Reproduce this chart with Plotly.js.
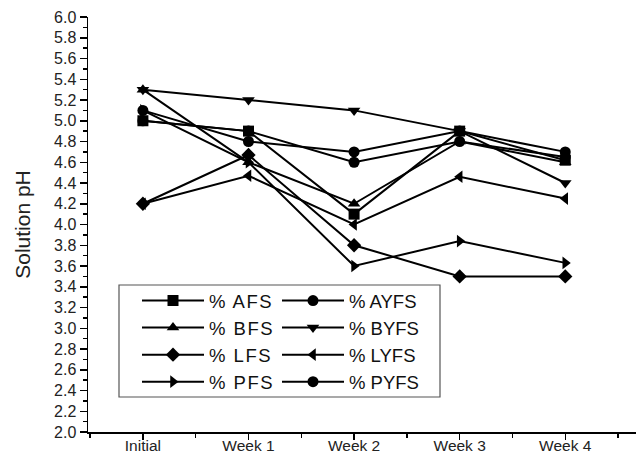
<!DOCTYPE html>
<html>
<head>
<meta charset="utf-8">
<script src="https://cdn.plot.ly/plotly-3.0.1.min.js"></script>
<style>
html,body{margin:0;padding:0;background:#fff;}
#chart{width:636px;height:456px;}
.legendtext{letter-spacing:1.5px;}
</style>
</head>
<body>
<div id="chart"></div>
<script>
const categories = ["Initial", "Week 1", "Week 2", "Week 3", "Week 4"];
const AFS  = [5.0, 4.9, 4.1, 4.9, 4.62];
const AYFS = [5.1, 4.8, 4.7, 4.9, 4.7];
const BFS  = [5.3, 4.6, 4.2, 4.8, 4.6];
const BYFS = [5.3, 5.2, 5.1, 4.9, 4.4];
const LFS  = [4.2, 4.67, 3.8, 3.5, 3.5];
const LYFS = [4.2, 4.47, 4.0, 4.46, 4.25];
const PFS  = [5.1, 4.6, 3.6, 3.84, 3.63];
const PYFS = [5.0, 4.9, 4.6, 4.8, 4.65];
const seriesNames = ["% AFS", "% AYFS", "% BFS", "% BYFS", "% LFS", "% LYFS", "% PFS", "% PYFS"];

const xIdx = categories.map((c, i) => i);
const FONT = "Liberation Sans, Arial, sans-serif";

function tr(name, y, symbol, legend, group) {
  return {
    type: "scatter", mode: "lines+markers", name: name, x: xIdx, y: y,
    line: {color: "#000", width: 2},
    marker: {symbol: symbol, size: 11, color: "#000"},
    legend: legend, legendgroup: group, showlegend: true
  };
}

const data = [
  tr(seriesNames[0], AFS, "square", "legend", "a"),
  tr(seriesNames[2], BFS, "triangle-up", "legend", "b"),
  tr(seriesNames[4], LFS, "diamond", "legend", "c"),
  tr(seriesNames[6], PFS, "triangle-right", "legend", "d"),
  tr(seriesNames[1], AYFS, "circle", "legend2", "e"),
  tr(seriesNames[3], BYFS, "triangle-down", "legend2", "f"),
  tr(seriesNames[5], LYFS, "triangle-left", "legend2", "g"),
  tr(seriesNames[7], PYFS, "circle", "legend2", "h")
];

const L = 88, T = 17, W = 548, H = 415;
function px(xp) { return (xp - L) / W; }
function py(yp) { return (T + H - yp) / H; }

const legendCommon = {
  bgcolor: "rgba(0,0,0,0)", borderwidth: 0,
  font: {family: FONT, size: 18.5, color: "#111"},
  itemwidth: 62, traceorder: "grouped", tracegroupgap: 0,
  xanchor: "left", yanchor: "top", itemclick: false
};

const layout = {
  width: 636, height: 456,
  margin: {l: L, r: 0, t: T, b: 456 - T - H},
  paper_bgcolor: "#fff", plot_bgcolor: "#fff",
  font: {family: FONT, color: "#222"},
  showlegend: true,
  xaxis: {
    type: "linear", range: [-0.52, 4.67],
    tickmode: "array", tickvals: xIdx, ticktext: categories,
    ticks: "outside", ticklen: 6, tickwidth: 1.5, tickcolor: "#000",
    ticklabelstandoff: -7,
    minor: {tick0: 0.5, dtick: 1, ticks: "outside", ticklen: 4, tickwidth: 1.5, tickcolor: "#000"},
    showline: true, linecolor: "#000", linewidth: 1.5,
    showgrid: false, zeroline: false, automargin: false,
    tickfont: {family: FONT, size: 15.5, color: "#222"}
  },
  yaxis: {
    range: [2.0, 6.0], dtick: 0.2, tick0: 2.0, tickformat: ".1f",
    ticks: "outside", ticklen: 7, tickwidth: 1.5, tickcolor: "#000",
    minor: {dtick: 0.1, ticks: "outside", ticklen: 4, tickwidth: 1.5, tickcolor: "#000"},
    showline: true, linecolor: "#000", linewidth: 1.5,
    showgrid: false, zeroline: false, automargin: false,
    tickfont: {family: FONT, size: 16, color: "#222"},
    title: {text: "Solution pH", font: {family: FONT, size: 21, color: "#222"}, standoff: 17}
  },
  legend: Object.assign({}, legendCommon, {x: px(137), y: py(282)}),
  legend2: Object.assign({}, legendCommon, {x: px(277), y: py(282)}),
  shapes: [{
    type: "rect", xref: "paper", yref: "paper",
    x0: px(119), x1: px(440), y0: py(397), y1: py(285),
    line: {color: "#555", width: 1.2}, fillcolor: "rgba(0,0,0,0)"
  }]
};

Plotly.newPlot("chart", data, layout, {displayModeBar: false, staticPlot: true});
</script>
</body>
</html>
